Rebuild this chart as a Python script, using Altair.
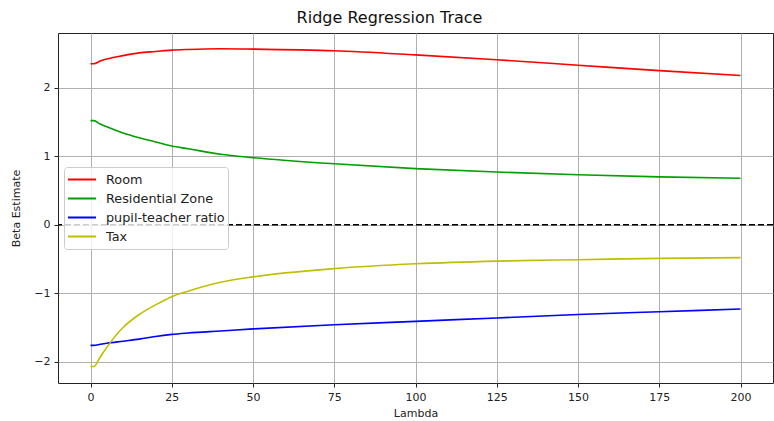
import altair as alt
import pandas as pd

lambdas = [0, 1, 3, 5, 10, 15, 20, 25, 30, 40, 50, 75, 100, 125, 150, 175, 200]
room = [2.35, 2.35, 2.39, 2.42, 2.47, 2.51, 2.53, 2.55, 2.56, 2.57, 2.565, 2.54, 2.48, 2.41, 2.33, 2.25, 2.18]
res_zone = [1.52, 1.52, 1.47, 1.43, 1.34, 1.27, 1.21, 1.15, 1.11, 1.03, 0.98, 0.89, 0.82, 0.77, 0.73, 0.70, 0.68]
ptratio = [-1.76, -1.76, -1.745, -1.73, -1.70, -1.67, -1.63, -1.60, -1.58, -1.55, -1.52, -1.46, -1.41, -1.36, -1.31, -1.27, -1.23]
tax = [-2.07, -2.07, -1.93, -1.79, -1.50, -1.31, -1.17, -1.05, -0.97, -0.84, -0.76, -0.64, -0.57, -0.53, -0.51, -0.49, -0.48]

series_names = ["Room", "Residential Zone", "pupil-teacher ratio", "Tax"]
series_colors = ["#ff0000", "#00a000", "#0000ff", "#bfbf00"]
series_values = [room, res_zone, ptratio, tax]

rows = []
for name, vals in zip(series_names, series_values):
    for l, v in zip(lambdas, vals):
        rows.append({"Lambda": l, "Beta": v, "Variable": name})
df = pd.DataFrame(rows)

FONT = "DejaVu Sans"

lines = alt.Chart(df).mark_line(strokeWidth=1.6, interpolate="monotone").encode(
    x=alt.X("Lambda:Q", title="Lambda",
            scale=alt.Scale(domain=[-10, 210], nice=False, zero=False),
            axis=alt.Axis(values=[0, 25, 50, 75, 100, 125, 150, 175, 200])),
    y=alt.Y("Beta:Q", title="Beta Estimate",
            scale=alt.Scale(domain=[-2.31, 2.80], nice=False, zero=False),
            axis=alt.Axis(values=[-2, -1, 0, 1, 2], format="d")),
    color=alt.Color("Variable:N", title=None,
                    scale=alt.Scale(domain=series_names, range=series_colors),
                    sort=series_names,
                    legend=alt.Legend(orient="none", legendX=6, legendY=134,
                                      symbolType="stroke", symbolSize=784,
                                      symbolStrokeWidth=2, clipHeight=19,
                                      labelFontSize=12.8, labelFont=FONT,
                                      labelColor="#222", fillColor="rgba(255,255,255,0.8)",
                                      strokeColor="#cccccc", cornerRadius=3,
                                      padding=3, rowPadding=0, labelOffset=9)),
)

zero = alt.Chart(pd.DataFrame({"y": [0]})).mark_rule(
    color="black", strokeWidth=1.6, strokeDash=[6, 3]
).encode(y=alt.Y("y:Q"))

chart = alt.layer(zero, lines).properties(
    width=715, height=350,
    title=alt.Title("Ridge Regression Trace", fontSize=16, font=FONT,
                    fontWeight="normal", anchor="middle", offset=7, dx=-26, color="#111"),
    autosize=alt.AutoSizeParams(type="none"),
    padding={"left": 58, "top": 33, "right": 1, "bottom": 38},
).configure_view(stroke="#222", strokeWidth=1).configure_axis(
    domain=False, grid=True, gridColor="#b0b0b0", gridWidth=1,
    tickColor="#222", tickSize=4, labelFont=FONT, labelFontSize=11,
    labelColor="#222", labelPadding=4, titleFont=FONT, titleFontSize=11,
    titleFontWeight="normal", titleColor="#222",
).configure_axisX(titlePadding=5).configure_axisY(titlePadding=12)

chart.save("out.html", embed_options={"renderer": "svg", "actions": False})
